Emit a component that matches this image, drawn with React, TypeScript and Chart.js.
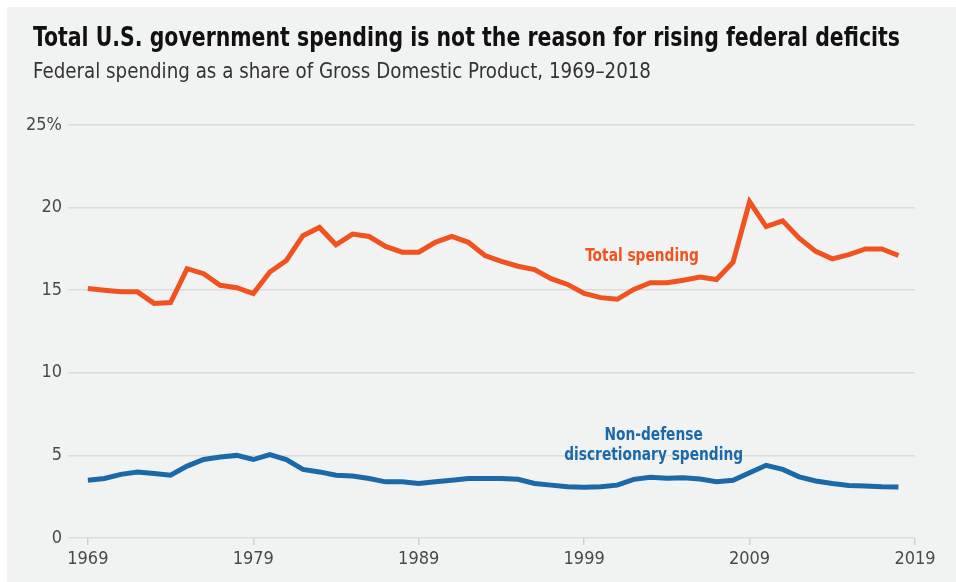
import React, { useEffect, useRef } from "react";
import { Chart, registerables } from "chart.js";

Chart.register(...registerables);

const years = [
  1969, 1970, 1971, 1972, 1973, 1974, 1975, 1976, 1977, 1978,
  1979, 1980, 1981, 1982, 1983, 1984, 1985, 1986, 1987, 1988,
  1989, 1990, 1991, 1992, 1993, 1994, 1995, 1996, 1997, 1998,
  1999, 2000, 2001, 2002, 2003, 2004, 2005, 2006, 2007, 2008,
  2009, 2010, 2011, 2012, 2013, 2014, 2015, 2016, 2017, 2018,
];

const totalSpending = [
  15.1, 15.0, 14.9, 14.9, 14.2, 14.25, 16.3, 16.0, 15.3, 15.15,
  14.8, 16.1, 16.8, 18.3, 18.8, 17.75, 18.4, 18.25, 17.65, 17.3,
  17.3, 17.9, 18.25, 17.9, 17.1, 16.75, 16.45, 16.25, 15.7, 15.35,
  14.8, 14.55, 14.45, 15.05, 15.45, 15.45, 15.6, 15.8, 15.65, 16.7,
  20.35, 18.85, 19.2, 18.15, 17.35, 16.9, 17.15, 17.5, 17.5, 17.1,
];

const nonDefense = [
  3.5, 3.6, 3.85, 4.0, 3.9, 3.8, 4.35, 4.75, 4.9, 5.0,
  4.75, 5.05, 4.75, 4.15, 4.0, 3.8, 3.75, 3.6, 3.4, 3.4,
  3.3, 3.4, 3.5, 3.6, 3.6, 3.6, 3.55, 3.3, 3.2, 3.1,
  3.07, 3.1, 3.2, 3.55, 3.67, 3.62, 3.65, 3.57, 3.4, 3.5,
  3.95, 4.4, 4.15, 3.7, 3.45, 3.3, 3.18, 3.15, 3.1, 3.08,
];

const xTickYears = [1969, 1979, 1989, 1999, 2009, 2019];
const yTicks = [0, 5, 10, 15, 20, 25];

const titleText = "Total U.S. government spending is not the reason for rising federal deficits";
const subtitleText = "Federal spending as a share of Gross Domestic Product, 1969\u20132018";

const labels = [
  { lines: ["Total spending"], x: 2002.5, y: 17.05, color: "#f0531f" },
  { lines: ["Non-defense", "discretionary spending"], x: 2003.2, y: 6.2, color: "#1b69a8" },
];

const ORANGE = "#f0531f";
const BLUE = "#1b69a8";
const FONT = "'DejaVu Sans Condensed', 'Roboto', sans-serif";

export default function App() {
  const canvasRef = useRef<HTMLCanvasElement | null>(null);
  const titleRef = useRef<HTMLDivElement | null>(null);
  const subRef = useRef<HTMLDivElement | null>(null);

  useEffect(() => {
    const fit = (el: HTMLDivElement | null, target: number) => {
      if (!el) return;
      el.style.transform = "none";
      const w = el.getBoundingClientRect().width;
      if (w > 0) el.style.transform = `scaleX(${target / w})`;
    };
    fit(titleRef.current, 867);
    fit(subRef.current, 618);
  }, []);

  useEffect(() => {
    if (!canvasRef.current) return;
    const labelPlugin = {
      id: "seriesLabels",
      afterDatasetsDraw(chart: any) {
        const { ctx, scales } = chart;
        ctx.save();
        ctx.font = `bold 18px ${FONT}`;
        ctx.textAlign = "center";
        ctx.textBaseline = "middle";
        labels.forEach((l) => {
          const px = scales.x.getPixelForValue(l.x);
          const py = scales.y.getPixelForValue(l.y);
          ctx.fillStyle = l.color;
          l.lines.forEach((t, i) => {
            ctx.save();
            ctx.translate(px, py + i * 20);
            ctx.scale(0.85, 1);
            ctx.fillText(t, 0, 0);
            ctx.restore();
          });
        });
        ctx.restore();
      },
    };

    const chart = new Chart(canvasRef.current, {
      type: "line",
      data: {
        datasets: [
          {
            label: "Total spending",
            data: years.map((y, i) => ({ x: y, y: totalSpending[i] })),
            borderColor: ORANGE,
            borderWidth: 5,
            pointRadius: 0,
            tension: 0,
          },
          {
            label: "Non-defense discretionary spending",
            data: years.map((y, i) => ({ x: y, y: nonDefense[i] })),
            borderColor: BLUE,
            borderWidth: 5,
            pointRadius: 0,
            tension: 0,
          },
        ],
      },
      options: {
        animation: false,
        responsive: false,
        maintainAspectRatio: false,
        layout: { padding: { top: 125, right: 41, left: 0, bottom: 0 } },
        plugins: {
          legend: { display: false },
          tooltip: { enabled: false },
          title: { display: false },
        },
        scales: {
          x: {
            type: "linear",
            min: 1967.8,
            max: 2019,
            afterBuildTicks: (scale: any) => {
              scale.ticks = xTickYears.map((v) => ({ value: v }));
            },
            afterFit: (scale: any) => {
              scale.height = 44;
            },
            border: { display: false },
            grid: {
              drawOnChartArea: false,
              drawTicks: true,
              tickLength: 7,
              color: "#cfcfcf",
              lineWidth: 1.5,
            },
            ticks: {
              autoSkip: false,
              maxRotation: 0,
              padding: 4,
              color: "#4a4a4a",
              font: { family: FONT, size: 18 },
              callback: (v: any) => String(v),
            },
          },
          y: {
            min: 0,
            max: 25,
            afterBuildTicks: (scale: any) => {
              scale.ticks = yTicks.map((v) => ({ value: v }));
            },
            afterFit: (scale: any) => {
              scale.width = 68;
            },
            border: { display: false },
            grid: {
              color: "#dcdcdc",
              lineWidth: 1.5,
              drawTicks: false,
            },
            ticks: {
              padding: 6,
              color: "#4a4a4a",
              font: { family: FONT, size: 18 },
              callback: (v: any) => (v === 25 ? "25%" : String(v)),
            },
          },
        },
      },
      plugins: [labelPlugin],
    } as any);
    return () => chart.destroy();
  }, []);

  return (
    <div style={{ position: "absolute", left: 0, top: 0, width: 956, height: 582, background: "#ffffff", overflow: "hidden" }}>
      <div style={{ position: "absolute", left: 7, top: 7, width: 949, height: 575, background: "#f1f2f2" }} />
      <canvas ref={canvasRef} width={956} height={582} style={{ position: "absolute", left: 0, top: 0, width: 956, height: 582 }} />
      <div ref={titleRef} style={{ position: "absolute", left: 33, top: 20, fontFamily: FONT, fontWeight: "bold", fontSize: 27, color: "#111", whiteSpace: "nowrap", lineHeight: "34px", transformOrigin: "0 0" }}>
        {titleText}
      </div>
      <div ref={subRef} style={{ position: "absolute", left: 33, top: 58, fontFamily: FONT, fontSize: 21, color: "#333", whiteSpace: "nowrap", lineHeight: "26px", transformOrigin: "0 0" }}>
        {subtitleText}
      </div>
    </div>
  );
}
